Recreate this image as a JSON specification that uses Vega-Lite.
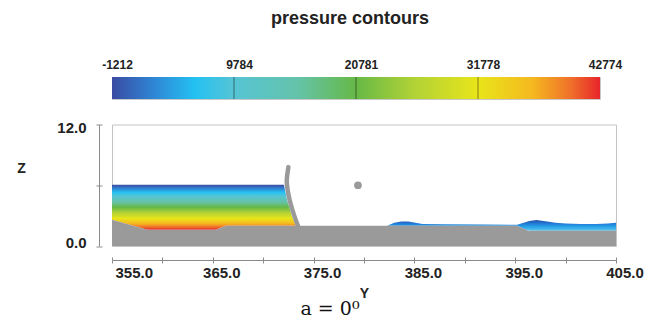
{
  "$schema": "https://vega.github.io/schema/vega-lite/v6.json",
  "background": "white",
  "padding": {"left": 16, "top": 9, "right": 10, "bottom": 4},
  "title": {"text": "a = 0⁰", "orient": "bottom", "anchor": "middle", "font": "DejaVu Serif", "fontSize": 19, "fontWeight": "normal", "color": "#111111", "offset": -1},
  "config": {
    "font": "Liberation Sans",
    "view": {"stroke": "#c4c4c4"},
    "axis": {"grid": false, "labelFont": "Liberation Sans", "labelFontWeight": "bold", "labelColor": "#222222", "titleFont": "Liberation Sans", "titleFontWeight": "bold", "titleColor": "#222222", "domainColor": "#8a8a8a", "tickColor": "#8a8a8a"}
  },
  "datasets": {
    "cbar": [{"pmin": -1212, "pmax": 42774}],
    "cticks": [{"p": 9784}, {"p": 20781}, {"p": 31778}],
    "terrain": [
      {"Y": 355.0, "z": 2.6}, {"Y": 358.5, "z": 1.6}, {"Y": 365.3, "z": 1.6}, {"Y": 366.3, "z": 2.0},
      {"Y": 395.2, "z": 2.0}, {"Y": 396.3, "z": 1.5}, {"Y": 405.0, "z": 1.5}
    ],
    "upstream": [
      {"Y": 355.0, "top": 6.05, "bot": 2.6}, {"Y": 358.5, "top": 6.05, "bot": 1.6},
      {"Y": 365.3, "top": 6.05, "bot": 1.6}, {"Y": 366.3, "top": 6.05, "bot": 2.0},
      {"Y": 372.05, "top": 6.05, "bot": 2.0}, {"Y": 372.37, "top": 4.55, "bot": 2.0},
      {"Y": 372.86, "top": 2.9, "bot": 2.0}, {"Y": 373.25, "top": 2.0, "bot": 2.0}
    ],
    "downstream": [
      {"Y": 382.3, "top": 2.0, "bot": 2.0}, {"Y": 383.0, "top": 2.3, "bot": 2.0},
      {"Y": 383.7, "top": 2.42, "bot": 2.0}, {"Y": 384.4, "top": 2.42, "bot": 2.0},
      {"Y": 385.1, "top": 2.3, "bot": 2.0}, {"Y": 385.8, "top": 2.18, "bot": 2.0},
      {"Y": 388.0, "top": 2.14, "bot": 2.0}, {"Y": 392.0, "top": 2.12, "bot": 2.0},
      {"Y": 395.2, "top": 2.1, "bot": 2.0}, {"Y": 396.0, "top": 2.35, "bot": 1.64},
      {"Y": 396.4, "top": 2.48, "bot": 1.5}, {"Y": 397.1, "top": 2.57, "bot": 1.5},
      {"Y": 398.0, "top": 2.45, "bot": 1.5}, {"Y": 399.0, "top": 2.3, "bot": 1.5},
      {"Y": 400.0, "top": 2.22, "bot": 1.5}, {"Y": 401.5, "top": 2.18, "bot": 1.5},
      {"Y": 403.0, "top": 2.18, "bot": 1.5}, {"Y": 404.2, "top": 2.22, "bot": 1.5},
      {"Y": 405.0, "top": 2.3, "bot": 1.5}
    ],
    "gate": [
      {"k": 1, "Y": 372.5, "z": 7.79}, {"k": 2, "Y": 372.38, "z": 7.0},
      {"k": 3, "Y": 372.35, "z": 6.1}, {"k": 4, "Y": 372.62, "z": 4.55},
      {"k": 5, "Y": 373.11, "z": 2.9}, {"k": 6, "Y": 373.45, "z": 2.0}
    ],
    "ball": [{"Y": 379.4, "z": 6.0}]
  },
  "spacing": 19.5,
  "vconcat": [
    {
      "width": 488,
      "height": 22,
      "title": {"text": "pressure contours", "anchor": "middle", "font": "Liberation Sans", "fontSize": 18, "fontWeight": "bold", "color": "#222222", "offset": 30, "dx": -6},
      "view": {"stroke": "#c8c8c8"},
      "layer": [
        {
          "data": {"name": "cbar"},
          "mark": {"type": "rect", "color": {"gradient": "linear", "x1": 0, "y1": 0, "x2": 1, "y2": 0, "stops": [
            {"offset": 0, "color": "#3a4ba2"}, {"offset": 0.08, "color": "#2f82d2"}, {"offset": 0.17, "color": "#24c1f2"},
            {"offset": 0.25, "color": "#55c4d4"}, {"offset": 0.38, "color": "#65c3aa"}, {"offset": 0.5, "color": "#66b946"},
            {"offset": 0.62, "color": "#b2d236"}, {"offset": 0.75, "color": "#e8e51a"}, {"offset": 0.86, "color": "#f5b91f"},
            {"offset": 0.94, "color": "#ef702a"}, {"offset": 1, "color": "#e8242a"}]}},
          "encoding": {
            "x": {"field": "pmin", "type": "quantitative", "scale": {"domain": [-1212, 42774], "nice": false, "zero": false},
              "axis": {"orient": "top", "values": [-1212, 9784, 20781, 31778, 42774], "title": null, "domain": false, "ticks": false,
                "labelFontSize": 12, "labelPadding": 6, "labelOffset": 5, "labelFlush": false, "labelOverlap": false, "labelExpr": "'' + datum.value"}},
            "x2": {"field": "pmax"}
          }
        },
        {
          "data": {"name": "cticks"},
          "mark": {"type": "rule", "color": "#000000", "opacity": 0.45, "strokeWidth": 1},
          "encoding": {"x": {"field": "p", "type": "quantitative"}}
        }
      ]
    },
    {
      "width": 504,
      "height": 121.5,
      "view": {"stroke": "#c4c4c4"},
      "resolve": {"axis": {"x": "independent", "y": "independent"}},
      "layer": [
        {
          "layer": [
            {
              "data": {"name": "upstream"},
              "mark": {"type": "area", "color": {"gradient": "linear", "x1": 0, "y1": 0, "x2": 0, "y2": 1, "stops": [
                {"offset": 0, "color": "#3a4ba2"}, {"offset": 0.08, "color": "#2f82d2"}, {"offset": 0.17, "color": "#24c1f2"},
                {"offset": 0.25, "color": "#55c4d4"}, {"offset": 0.38, "color": "#65c3aa"}, {"offset": 0.5, "color": "#66b946"},
                {"offset": 0.62, "color": "#b2d236"}, {"offset": 0.75, "color": "#e8e51a"}, {"offset": 0.86, "color": "#f5b91f"},
                {"offset": 0.94, "color": "#ef702a"}, {"offset": 1, "color": "#e8242a"}]}},
              "encoding": {
                "x": {"field": "Y", "type": "quantitative", "scale": {"domain": [355, 405], "nice": false, "zero": false},
                  "axis": {"orient": "bottom", "offset": 14, "values": [355, 360, 365, 370, 375, 380, 385, 390, 395, 400, 405], "title": "Y",
                    "labelExpr": "datum.value % 10 == 5 ? format(datum.value, '.1f') : ''", "labelFontSize": 15, "labelPadding": 2, "tickSize": 3,
                    "labelFlush": false, "labelOverlap": false,
                    "labelAlign": {"condition": {"test": "datum.value == 355", "value": "left"}, "value": "center"},
                    "labelOffset": {"condition": {"test": "datum.value == 355", "value": 3}, "value": 8.5},
                    "titleFontSize": 14, "titlePadding": 6}},
                "y": {"field": "top", "type": "quantitative", "scale": {"domain": [0, 12], "nice": false},
                  "axis": {"orient": "left", "offset": 13, "values": [0, 6, 12], "title": "Z", "titleAngle": 0, "titleX": -78, "titleY": 43.5,
                    "titleAlign": "center", "titleBaseline": "middle", "titleFontSize": 14,
                    "labelExpr": "datum.value == 6 ? '' : format(datum.value, '.1f')", "labelFontSize": 15, "labelPadding": 10, "tickSize": 3,
                    "labelOffset": {"condition": {"test": "datum.value == 12", "value": 3.3}, "value": -3.3}}},
                "y2": {"field": "bot"}
              }
            },
            {
              "data": {"name": "downstream"},
              "mark": {"type": "area", "color": {"gradient": "linear", "x1": 0, "y1": 0, "x2": 0, "y2": 1, "stops": [
                {"offset": 0, "color": "#2a4fa6"}, {"offset": 0.3, "color": "#2076d2"}, {"offset": 0.6, "color": "#279fe6"}, {"offset": 1, "color": "#5cc6ee"}]}},
              "encoding": {
                "x": {"field": "Y", "type": "quantitative"},
                "y": {"field": "top", "type": "quantitative"},
                "y2": {"field": "bot"}
              }
            },
            {
              "data": {"name": "terrain"},
              "mark": {"type": "area", "color": "#9a9a9a"},
              "encoding": {
                "x": {"field": "Y", "type": "quantitative"},
                "y": {"field": "z", "type": "quantitative"}
              }
            },
            {
              "data": {"name": "gate"},
              "mark": {"type": "line", "color": "#9a9a9a", "strokeWidth": 4.5, "strokeCap": "round", "interpolate": "natural"},
              "encoding": {
                "x": {"field": "Y", "type": "quantitative"},
                "y": {"field": "z", "type": "quantitative"},
                "order": {"field": "k", "type": "quantitative"}
              }
            }
          ]
        },
        {
          "data": {"name": "ball"},
          "mark": {"type": "point", "filled": true, "opacity": 1, "color": "#9a9a9a", "size": 60},
          "encoding": {
            "x": {"field": "Y", "type": "quantitative",
              "axis": {"orient": "bottom", "offset": 11, "values": [355, 360, 365, 370, 375, 380, 385, 390, 395, 400, 405], "labels": false, "domain": false, "tickSize": 3, "title": null}},
            "y": {"field": "z", "type": "quantitative",
              "axis": {"orient": "left", "offset": 10, "values": [0, 6, 12], "labels": false, "domain": false, "tickSize": 3, "title": null}}
          }
        }
      ]
    }
  ]
}
